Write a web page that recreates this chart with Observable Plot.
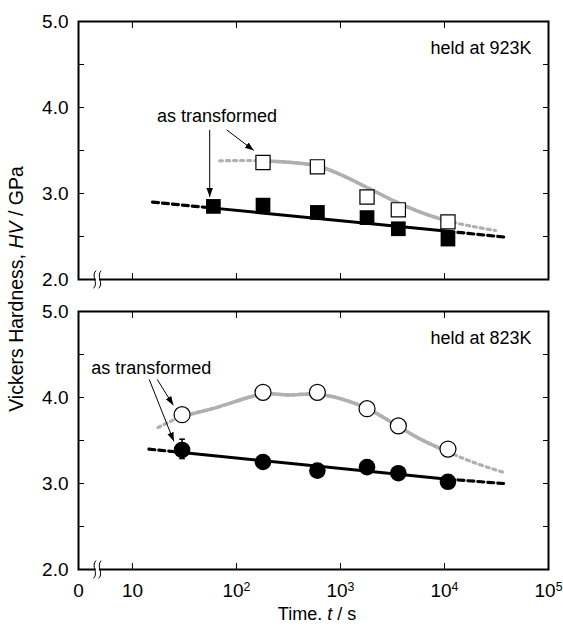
<!DOCTYPE html>
<html><head><meta charset="utf-8">
<script src="https://cdn.jsdelivr.net/npm/d3@7"></script>
<script src="https://cdn.jsdelivr.net/npm/@observablehq/plot@0.6"></script>
<style>
body{margin:0;background:#fff;}
#wrap{position:relative;width:563px;height:628px;font-family:"Liberation Sans",Arial,sans-serif;color:#000;overflow:hidden;}
#ytitle{position:absolute;left:17px;top:289px;transform:translate(-50%,-50%) rotate(-90deg);white-space:nowrap;font-size:19.5px;line-height:1;}
#xtitle{position:absolute;left:317px;top:605px;transform:translateX(-50%);white-space:nowrap;font-size:18px;line-height:1.1;}
</style></head>
<body><div id="wrap"><div id="chart"></div>
<div id="ytitle">Vickers Hardness, <i>HV</i> / GPa</div>
<div id="xtitle">Time. <i>t</i> / s</div></div>
<script>
// ---- data ----
const panels = ["923K", "823K"];
const panelLabels = ["held at 923K", "held at 823K"];

// 923 K: filled squares and open squares
const tFilled923 = [60, 180, 600, 1800, 3600, 10800];
const hvFilled923 = [2.85, 2.865, 2.78, 2.72, 2.59, 2.47];
const tOpen923 = [180, 600, 1800, 3600, 10800];
const hvOpen923 = [3.36, 3.31, 2.96, 2.81, 2.67];

// 823 K: filled circles and open circles
const tFilled823 = [30, 180, 600, 1800, 3600, 10800];
const hvFilled823 = [3.39, 3.25, 3.15, 3.19, 3.12, 3.02];
const tOpen823 = [30, 180, 600, 1800, 3600, 10800];
const hvOpen823 = [3.80, 4.06, 4.06, 3.87, 3.67, 3.40];

// error bar (823 K, as transformed)
const errT = [30];
const errLow = [3.29];
const errHigh = [3.515];

// black fit lines (solid between index 1 and 2, dashed extensions)
const fitT923 = [15.6, 60, 10800, 40000];
const fitHV923 = [2.90, 2.83, 2.56, 2.49];
const fitT823 = [14.4, 30, 10800, 37000];
const fitHV823 = [3.40, 3.36, 3.05, 3.00];

// gray guide curves
const curveT923 = [69, 180, 600, 1040, 1800, 3460, 6600, 10800, 20000, 31000];
const curveHV923 = [3.38, 3.38, 3.32, 3.21, 3.07, 2.90, 2.76, 2.68, 2.61, 2.57];
const curveMain923 = [1, 7];
const curveT823 = [17.6, 30, 63, 180, 313, 585, 1046, 1820, 3540, 6000, 10700, 19500, 37000];
const curveHV823 = [3.65, 3.78, 3.88, 4.04, 4.03, 4.04, 3.98, 3.87, 3.67, 3.51, 3.37, 3.24, 3.13];
const curveMain823 = [1, 10];

// annotations
const annPanel = ["923K", "823K"];
const annT = [17.2, 4.02];
const annHV = [3.833, 4.27];
const annText = ["as transformed", "as transformed"];
const arrowPanel = ["923K", "923K", "823K", "823K"];
const arrowT1 = [55.3, 80.5, 14.5, 17.3];
const arrowHV1 = [3.74, 3.74, 4.21, 4.21];
const arrowT2 = [55.3, 147, 25, 24.7];
const arrowHV2 = [2.96, 3.50, 3.49, 3.91];

// axes
const xDomain = [3.03, 1e5];
const yDomain = [2, 5];
const xTicks = [10, 100, 1000, 10000];
const xLabelTicks = [10, 100, 1000, 10000, 100000];
const xTickLabels = ["10", "10^2", "10^3", "10^4", "10^5"];
const xOriginLabel = "0";
const yTicks = [2, 2.5, 3, 3.5, 4, 4.5, 5];
const yLabelTicks = [2, 3, 4, 5];
const breakT = [4.6];
const breakHV = [2];

// ---- build rows ----
const rows = (panel, ts, hs) => ts.map((t, i) => ({panel, t, hv: hs[i]}));
const filledSquares = rows("923K", tFilled923, hvFilled923);
const openSquares = rows("923K", tOpen923, hvOpen923);
const filledCircles = rows("823K", tFilled823, hvFilled823);
const openCircles = rows("823K", tOpen823, hvOpen823);
const errRows = errT.map((t, i) => ({panel: "823K", t, lo: errLow[i], hi: errHigh[i]}));

function fitParts(panel, ts, hs) {
  const all = rows(panel, ts, hs);
  return {
    solid: all.slice(1, 3),
    dashed: [...all.slice(0, 2).map(d => ({...d, seg: panel + "a"})), ...all.slice(2, 4).map(d => ({...d, seg: panel + "b"}))]
  };
}
const f923 = fitParts("923K", fitT923, fitHV923);
const f823 = fitParts("823K", fitT823, fitHV823);

const c923 = rows("923K", curveT923, curveHV923);
const c823 = rows("823K", curveT823, curveHV823);
const cMain = [...c923.slice(curveMain923[0], curveMain923[1] + 1), ...c823.slice(curveMain823[0], curveMain823[1] + 1)];

const labelRows = panels.map((p, i) => ({panel: p, text: panelLabels[i]}));
const annRows = annPanel.map((p, i) => ({panel: p, t: annT[i], hv: annHV[i], text: annText[i]}));
const arrowRows = arrowPanel.map((p, i) => ({panel: p, t1: arrowT1[i], h1: arrowHV1[i], t2: arrowT2[i], h2: arrowHV2[i]}));
const breakRows = breakT.map((t, i) => ({t, hv: breakHV[i]}));
const originRows = [{panel: "823K", text: xOriginLabel}];

// symbol shapes (relative to the mark position)
const capSymbol = {draw(ctx, size) { const w = Math.sqrt(size) / 2; ctx.moveTo(-w, 0); ctx.lineTo(w, 0); }};
const breakSymbol = {draw(ctx, size) {
  const h = Math.sqrt(size) / 2;
  for (const o of [-2.6, 2.6]) {
    ctx.moveTo(o + 1.2, -h);
    ctx.bezierCurveTo(o - 4.2, -h * 0.35, o + 4.2, h * 0.35, o - 1.2, h);
  }
}};
const gray = "#b0b0b0";

const chart = Plot.plot({
  width: 563, height: 628,
  marginLeft: 78, marginRight: 15, marginTop: 21, marginBottom: 58,
  style: {fontFamily: "Liberation Sans, Arial, sans-serif", fontSize: "19px", color: "black", background: "white"},
  x: {type: "log", domain: xDomain, label: null},
  y: {domain: yDomain, label: null},
  fy: {domain: panels, axis: null, paddingInner: 0.11, paddingOuter: 0, label: null},
  marks: [
    // gray curves
    Plot.line([...c923, ...c823], {x: "t", y: "hv", fy: "panel", z: "panel", curve: "catmull-rom", stroke: gray, strokeWidth: 3.2, strokeDasharray: "3,4"}),
    Plot.line(cMain, {x: "t", y: "hv", fy: "panel", z: "panel", curve: "catmull-rom", stroke: gray, strokeWidth: 3.5}),
    // black fits
    Plot.line([...f923.solid, ...f823.solid], {x: "t", y: "hv", fy: "panel", z: "panel", stroke: "black", strokeWidth: 3}),
    Plot.line([...f923.dashed, ...f823.dashed], {x: "t", y: "hv", fy: "panel", z: "seg", stroke: "black", strokeWidth: 3.2, strokeDasharray: "6,4"}),
    // error bar
    Plot.ruleX(errRows, {x: "t", y1: "lo", y2: "hi", fy: "panel", stroke: "black", strokeWidth: 1.5}),
    Plot.dot(errRows, {x: "t", y: "lo", fy: "panel", symbol: capSymbol, r: 3.2, stroke: "black", strokeWidth: 1.5, fill: "none"}),
    Plot.dot(errRows, {x: "t", y: "hi", fy: "panel", symbol: capSymbol, r: 3.2, stroke: "black", strokeWidth: 1.5, fill: "none"}),
    // markers
    Plot.dot(openSquares, {x: "t", y: "hv", fy: "panel", symbol: "square", r: 8, fill: "white", stroke: "black", strokeWidth: 1.2}),
    Plot.dot(filledSquares, {x: "t", y: "hv", fy: "panel", symbol: "square", r: 8.3, fill: "black", stroke: "none"}),
    Plot.dot(openCircles, {x: "t", y: "hv", fy: "panel", symbol: "circle", r: 8, fill: "white", stroke: "black", strokeWidth: 1.2}),
    Plot.dot(filledCircles, {x: "t", y: "hv", fy: "panel", symbol: "circle", r: 8.3, fill: "black", stroke: "none"}),
    // annotations
    Plot.link(arrowRows, {x1: "t1", y1: "h1", x2: "t2", y2: "h2", fy: "panel", stroke: "black", strokeWidth: 1}),
    Plot.text(annRows, {x: "t", y: "hv", fy: "panel", text: "text", textAnchor: "start", lineAnchor: "bottom", fontSize: 18}),
    Plot.text(labelRows, {fy: "panel", text: "text", frameAnchor: "top-right", textAnchor: "end", lineAnchor: "bottom", dx: -17, dy: 32, fontSize: 18}),
    // frame and axes
    Plot.frame({stroke: "black", strokeWidth: 2}),
    Plot.dot(breakRows, {x: "t", y: "hv", symbol: "square", r: 1.8, fill: "white", stroke: "none"}),
    Plot.dot(breakRows, {x: "t", y: "hv", symbol: breakSymbol, r: 10, fill: "none", stroke: "black", strokeWidth: 1}),
    Plot.axisY({anchor: "left", ticks: yTicks, tickSize: -6, tickFormat: () => "", label: null, facetAnchor: null}),
    Plot.axisY({anchor: "right", ticks: yTicks, tickSize: -6, tickFormat: () => "", label: null, facetAnchor: null}),
    Plot.axisY({anchor: "left", ticks: yLabelTicks, tickSize: 0, tickPadding: 10, tickFormat: d => d.toFixed(1), fontSize: 19, label: null, facetAnchor: null}),
    Plot.axisX({anchor: "bottom", ticks: xTicks, tickSize: -6, tickFormat: () => "", label: null, facetAnchor: null}),
    Plot.axisX({anchor: "top", ticks: xTicks, tickSize: -6, tickFormat: () => "", label: null, facetAnchor: null}),
    Plot.axisX({anchor: "bottom", ticks: xLabelTicks, tickSize: 0, tickPadding: 14, tickFormat: d => xTickLabels[xLabelTicks.indexOf(d)], fontSize: 19, label: null}),
    Plot.text(originRows, {fy: "panel", text: "text", frameAnchor: "bottom-left", textAnchor: "middle", lineAnchor: "top", dy: 14, fontSize: 19})
  ]
});
document.getElementById("chart").appendChild(chart);

// superscripts on tick labels
const svg = d3.select(chart.tagName === "svg" ? chart : chart.querySelector("svg"));
svg.selectAll("text").each(function() {
  const el = d3.select(this);
  const s = el.text();
  const m = /^10\^(\d)$/.exec(s);
  if (m && this.children.length === 0) {
    el.text("10");
    el.append("tspan").attr("dy", "-0.5em").attr("font-size", "0.65em").text(m[1]);
  }
});
// filled arrowheads
const defs = svg.append("defs");
defs.append("marker").attr("id", "ahead").attr("viewBox", "0 -5 10 10")
  .attr("refX", 10).attr("refY", 0).attr("markerWidth", 9).attr("markerHeight", 9)
  .attr("markerUnits", "userSpaceOnUse").attr("orient", "auto")
  .append("path").attr("d", "M0,-3.6L10,0L0,3.6Z").attr("fill", "black");
svg.selectAll('g[aria-label="link"] path').attr("marker-end", "url(#ahead)");
</script></body></html>
